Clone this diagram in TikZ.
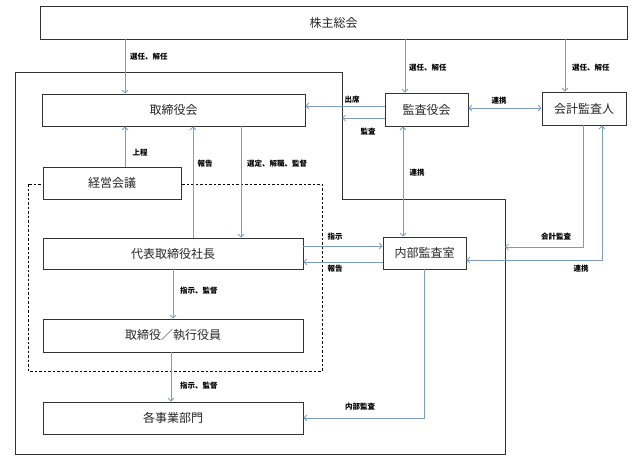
\documentclass[tikz,border=0pt]{standalone}
\usepackage{fontspec}
\setmainfont{Noto Sans CJK JP}
\usetikzlibrary{arrows.meta}
\definecolor{conncol}{HTML}{7F9BBB}
\definecolor{boxcol}{HTML}{333333}
\tikzset{
  orgbox/.style={draw=boxcol, line width=0.8pt, fill=white, inner sep=0pt, font=\fontsize{12}{14}\selectfont, text=black!85},
  conn/.style={draw=conncol, line width=0.8pt, arrows={-Straight Barb[length=3pt,width=6pt]}},
  biconn/.style={draw=conncol, line width=0.8pt, arrows={Straight Barb[length=3pt,width=6pt]-Straight Barb[length=3pt,width=6pt]}},
  lbl/.style={font=\fontsize{7.5}{9}\selectfont\bfseries, inner sep=0pt, text=black},
  frameline/.style={draw=boxcol, line width=0.8pt},
  dashframe/.style={draw=black, line width=0.8pt, dash pattern=on 2.5pt off 2pt},
}
\begin{document}
\begin{tikzpicture}[x=1pt,y=-1pt]
\useasboundingbox (0,0) rectangle (634,458);
% outer frame
\coordinate (fTL) at (15,72);
\coordinate (fTM) at (342,72);
\coordinate (fMM) at (342,199);
\coordinate (fMR) at (505,199);
\coordinate (fBR) at (505,454);
\coordinate (fBL) at (15,454);
\draw[frameline] (fTL) -- (fTM) -- (fMM) -- (fMR) -- (fBR) -- (fBL) -- cycle;
% dashed frame
\draw[dashframe] (28,184) rectangle (322,371);
% boxes
\node[orgbox, minimum width=587pt, minimum height=33pt] (soukai) at (333.5,22.5) {株主総会};
\node[orgbox, minimum width=263pt, minimum height=32pt] (tori) at (173.5,110) {取締役会};
\node[orgbox, minimum width=83pt, minimum height=33pt] (kansa) at (426.5,109.5) {監査役会};
\node[orgbox, minimum width=84pt, minimum height=33pt] (kaikei) at (584,108.5) {会計監査人};
\node[orgbox, minimum width=138pt, minimum height=32pt] (keiei) at (112,183) {経営会議};
\node[orgbox, minimum width=260pt, minimum height=31pt] (daihyo) at (173,253.5) {代表取締役社長};
\node[orgbox, minimum width=83pt, minimum height=32pt] (naibu) at (424.5,253) {内部監査室};
\node[orgbox, minimum width=260pt, minimum height=33pt] (shikko) at (173,335.5) {取締役／執行役員};
\node[orgbox, minimum width=260pt, minimum height=32pt] (jigyo) at (173,418) {各事業部門};
% column / row helpers
\coordinate (c125) at (125,0);
\coordinate (c405) at (405,0);
\coordinate (c565) at (565,0);
\coordinate (c403) at (403,0);
\coordinate (c583) at (583,0);
\coordinate (c602) at (602,0);
\coordinate (c193) at (193,0);
\coordinate (c241) at (241,0);
\coordinate (c173) at (173,0);
\coordinate (c171) at (171,0);
\coordinate (c424) at (424,0);
\coordinate (r108) at (0,108);
\coordinate (r106) at (0,106);
\coordinate (r118) at (0,118);
\coordinate (r247) at (0,247);
\coordinate (r260) at (0,260);
\coordinate (r246) at (0,246);
\coordinate (r262) at (0,262);
\coordinate (r418) at (0,418);
% connectors
\draw[conn] (soukai.south -| c125) -- (tori.north -| c125);
\draw[conn] (soukai.south -| c405) -- (kansa.north -| c405);
\draw[conn] (soukai.south -| c565) -- (kaikei.north -| c565);
\draw[biconn] (kansa.east |- r108) -- (kaikei.west |- r108);
\draw[conn] (kansa.west |- r106) -- (tori.east |- r106);
\draw[conn] (kansa.west |- r118) -- (fTM |- r118);
\draw[biconn] (kansa.south -| c403) -- (naibu.north -| c403);
\draw[conn] (kaikei.south -| c583) |- (fMR |- r247);
\draw[biconn] (kaikei.south -| c602) |- (naibu.east |- r260);
\draw[conn] (keiei.north -| c125) -- (tori.south -| c125);
\draw[conn] (daihyo.north -| c193) -- (tori.south -| c193);
\draw[conn] (tori.south -| c241) -- (daihyo.north -| c241);
\draw[conn] (daihyo.east |- r246) -- (naibu.west |- r246);
\draw[conn] (naibu.west |- r262) -- (daihyo.east |- r262);
\draw[conn] (daihyo.south -| c173) -- (shikko.north -| c173);
\draw[conn] (shikko.south -| c171) -- (jigyo.north -| c171);
\draw[conn] (naibu.south -| c424) |- (jigyo.east |- r418);
% labels
\node[lbl, anchor=west] (l1) at (130,57) {選任、解任};
\node[lbl, anchor=west] (l2) at (409,68) {選任、解任};
\node[lbl, anchor=west] (l3) at (572,68) {選任、解任};
\node[lbl] (l4) at (499,101) {連携};
\node[lbl] (l5) at (352,100) {出席};
\node[lbl] (l6) at (368,132) {監査};
\node[lbl] (l7) at (417,173) {連携};
\node[lbl] (l8) at (556,237) {会計監査};
\node[lbl] (l9) at (581,269) {連携};
\node[lbl] (l10) at (140,153) {上程};
\node[lbl] (l11) at (205,164) {報告};
\node[lbl, anchor=west] (l12) at (247,164) {選定、解職、監督};
\node[lbl] (l13) at (335,237) {指示};
\node[lbl] (l14) at (335,269) {報告};
\node[lbl, anchor=west] (l15) at (180,291) {指示、監督};
\node[lbl, anchor=west] (l16) at (180,386) {指示、監督};
\node[lbl] (l17) at (360,407) {内部監査};
\end{tikzpicture}
\end{document}
